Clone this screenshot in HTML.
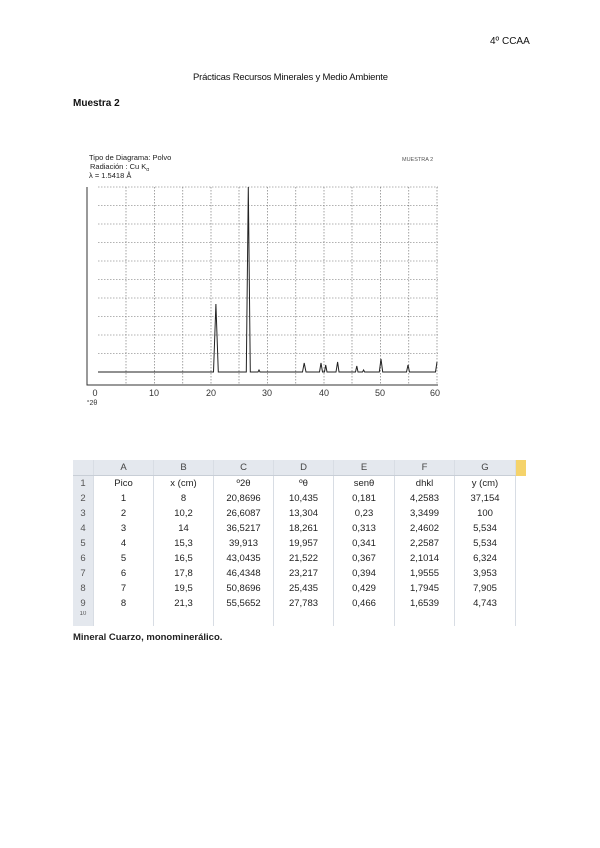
<!DOCTYPE html>
<html><head><meta charset="utf-8"><style>
body{margin:0;width:600px;height:848px;background:#fff;position:relative;overflow:hidden;font-family:"Liberation Sans",sans-serif;color:#111}
.t{position:absolute;white-space:nowrap}
table{position:absolute;left:73px;top:460px;border-collapse:collapse;font-size:9.5px;color:#222}
td{height:15px;padding:0;text-align:center;border-right:1px solid #d8dde4}
tr.h td{background:#e4e8ee;color:#444;border-bottom:1px solid #c8ced6}
td.n{background:#e4e8ee;color:#555;width:20px}
</style></head><body>
<div class="t" style="left:490px;top:36px;font-size:10px">4º CCAA</div>
<div class="t" style="left:193px;top:72px;font-size:9.5px;letter-spacing:-0.2px">Prácticas Recursos Minerales y Medio Ambiente</div>
<div class="t" style="left:73px;top:98px;font-size:10px;font-weight:bold">Muestra 2</div>
<svg class="t" style="left:0;top:0" width="600" height="420">
<g font-size="7.5" fill="#222">
<text x="89" y="160">Tipo de Diagrama: Polvo</text>
<text x="90" y="169">Radiación : Cu K<tspan font-size="5" dy="2">α</tspan></text>
<text x="89" y="178">λ = 1.5418 Å</text>
<text x="402" y="161" font-size="5.5" fill="#555">MUESTRA 2</text>
</g>
<g stroke="#666" stroke-width="0.6" stroke-dasharray="1.5,1.5" fill="none">
<path d="M98 187H438M98 205.5H438M98 224H438M98 242.5H438M98 261H438M98 279.5H438M98 298H438M98 316.5H438M98 335H438M98 353.5H438"/>
<path d="M126 187V385M154.5 187V385M182.8 187V385M211 187V385M239 187V385M267.5 187V385M295.8 187V385M324 187V385M352 187V385M380.5 187V385M408.8 187V385M437 187V385"/>
</g>
<path d="M87 187V385H438" stroke="#333" stroke-width="1" fill="none"/>
<path d="M98 372H213.5L215.9 304L218.3 372H246.3L248.3 187L250.3 372H258L259 370L260 372H302.5L304.2 363L306 372H319.5L321 363L322.5 372H324.5L325.7 365L327 372H336L337.6 362L339 372H355.5L356.8 366L358 372H362.5L363.6 370L364.6 372H379.3L381 359L382.7 372H406.5L408 365L409.5 372H435.5L437 362" stroke="#222" stroke-width="1" fill="none"/>
<g font-size="9" fill="#333" text-anchor="middle">
<text x="95" y="396">0</text><text x="154" y="396">10</text><text x="211" y="396">20</text><text x="267" y="396">30</text><text x="324" y="396">40</text><text x="380" y="396">50</text><text x="435" y="396">60</text>
<text x="92" y="405" font-size="7">°2θ</text>
</g>
</svg>
<table>
<tr class="h"><td class="n"></td><td style="width:59px">A</td><td style="width:59px">B</td><td style="width:59px">C</td><td style="width:59px">D</td><td style="width:60px">E</td><td style="width:59px">F</td><td style="width:60px">G</td><td style="width:10px;background:#f5d36b;border:none"></td></tr>
<tr><td class="n">1</td><td>Pico</td><td>x (cm)</td><td>º2θ</td><td>ºθ</td><td>senθ</td><td>dhkl</td><td>y (cm)</td><td style="border:none"></td></tr>
<tr><td class="n">2</td><td>1</td><td>8</td><td>20,8696</td><td>10,435</td><td>0,181</td><td>4,2583</td><td>37,154</td><td style="border:none"></td></tr>
<tr><td class="n">3</td><td>2</td><td>10,2</td><td>26,6087</td><td>13,304</td><td>0,23</td><td>3,3499</td><td>100</td><td style="border:none"></td></tr>
<tr><td class="n">4</td><td>3</td><td>14</td><td>36,5217</td><td>18,261</td><td>0,313</td><td>2,4602</td><td>5,534</td><td style="border:none"></td></tr>
<tr><td class="n">5</td><td>4</td><td>15,3</td><td>39,913</td><td>19,957</td><td>0,341</td><td>2,2587</td><td>5,534</td><td style="border:none"></td></tr>
<tr><td class="n">6</td><td>5</td><td>16,5</td><td>43,0435</td><td>21,522</td><td>0,367</td><td>2,1014</td><td>6,324</td><td style="border:none"></td></tr>
<tr><td class="n">7</td><td>6</td><td>17,8</td><td>46,4348</td><td>23,217</td><td>0,394</td><td>1,9555</td><td>3,953</td><td style="border:none"></td></tr>
<tr><td class="n">8</td><td>7</td><td>19,5</td><td>50,8696</td><td>25,435</td><td>0,429</td><td>1,7945</td><td>7,905</td><td style="border:none"></td></tr>
<tr><td class="n">9</td><td>8</td><td>21,3</td><td>55,5652</td><td>27,783</td><td>0,466</td><td>1,6539</td><td>4,743</td><td style="border:none"></td></tr>
<tr><td class="n" style="height:6px;font-size:6px;line-height:6px;vertical-align:top;overflow:hidden">10</td><td></td><td></td><td></td><td></td><td></td><td></td><td></td><td style="border:none"></td></tr>
</table>
<div class="t" style="left:73px;top:632px;font-size:9.5px;font-weight:bold;color:#222">Mineral Cuarzo, monominerálico.</div>
</body></html>
